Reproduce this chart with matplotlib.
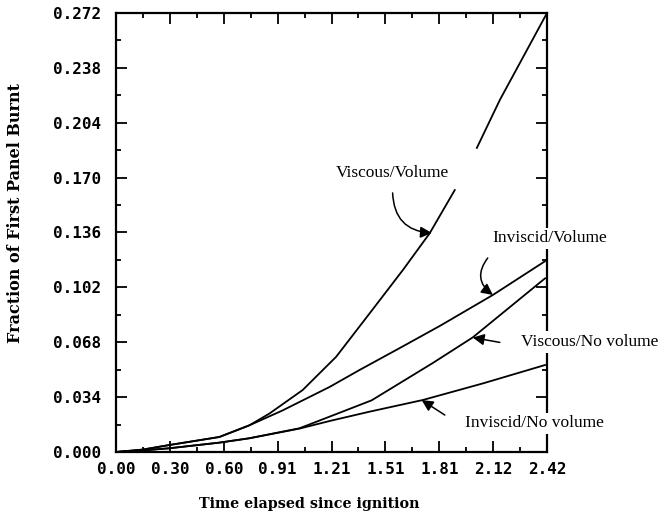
import numpy as np
import matplotlib
matplotlib.use("Agg")
import matplotlib.pyplot as plt
from matplotlib.ticker import FixedLocator

# burn fraction of the first panel vs. time since ignition
vv_t = [0.0, 0.15, 0.298, 0.580, 0.748, 0.861, 1.048, 1.236, 1.424, 1.611,
        1.761, 1.902, 2.026, 2.155, 2.420]
vv_f = [0.0, 0.0015, 0.0043, 0.0093, 0.0165, 0.0238, 0.0384, 0.0590, 0.0859,
        0.1128, 0.1355, 0.1623, 0.1884, 0.2181, 0.2720]

iv_t = [0.0, 0.15, 0.298, 0.580, 0.748, 0.934, 1.199, 1.367, 1.593, 1.818,
        2.116, 2.420]
iv_f = [0.0, 0.0015, 0.0043, 0.0093, 0.0165, 0.0257, 0.0403, 0.0508, 0.0644,
        0.0781, 0.0973, 0.1190]

vn_t = [0.0, 0.15, 0.298, 0.580, 0.748, 1.030, 1.199, 1.435, 1.778, 2.003,
        2.409]
vn_f = [0.0, 0.0010, 0.0023, 0.0058, 0.0085, 0.0147, 0.0219, 0.0320, 0.0551,
        0.0710, 0.1076]

in_t = [0.0, 0.15, 0.298, 0.580, 0.748, 1.030, 1.199, 1.424, 1.722, 2.060,
        2.409]
in_f = [0.0, 0.0010, 0.0023, 0.0058, 0.0085, 0.0145, 0.0192, 0.0250, 0.0322,
        0.0425, 0.0539]

x_ticks = np.linspace(0, 2.42, 9)
x_labels = ["0.00", "0.30", "0.60", "0.91", "1.21", "1.51", "1.81", "2.12", "2.42"]
y_ticks = np.linspace(0, 0.272, 9)
y_labels = ["0.000", "0.034", "0.068", "0.102", "0.136", "0.170", "0.204",
            "0.238", "0.272"]

# the viscous/volume curve is broken where its label sits
vv_gap = (1.91, 2.02)

fig = plt.figure(figsize=(6.68, 5.13), dpi=100)
ax = fig.add_axes([0.1737, 0.1189, 0.6452, 0.8558])

lw = 1.3
t = np.array(vv_t); f = np.array(vv_f)
lo = t <= vv_gap[0]
hi = t >= vv_gap[1]
ax.plot(t[lo], f[lo], color="black", lw=lw)
ax.plot(t[hi], f[hi], color="black", lw=lw)
ax.plot(iv_t, iv_f, color="black", lw=lw)
ax.plot(vn_t, vn_f, color="black", lw=lw)
ax.plot(in_t, in_f, color="black", lw=lw)

ax.set_xlim(0, 2.42)
ax.set_ylim(0, 0.272)

mono = dict(family="DejaVu Sans Mono", weight="bold", size=11.5)
ax.set_xticks(x_ticks)
ax.set_xticklabels(x_labels, fontdict=mono)
ax.set_yticks(y_ticks)
ax.set_yticklabels(y_labels, fontdict=mono)
ax.xaxis.set_minor_locator(FixedLocator((x_ticks[:-1] + x_ticks[1:]) / 2))
ax.yaxis.set_minor_locator(FixedLocator((y_ticks[:-1] + y_ticks[1:]) / 2))
ax.tick_params(which="both", direction="in", top=True, right=True, width=1.3)
ax.tick_params(which="major", length=8)
ax.tick_params(which="minor", length=3.5)
ax.tick_params(axis="x", which="major", pad=7)
ax.tick_params(axis="y", which="major", pad=11)
for sp in ax.spines.values():
    sp.set_linewidth(1.6)

ax.set_ylabel("Fraction of First Panel Burnt", family="DejaVu Serif",
              weight="bold", size=11.5)
ax.set_xlabel("Time elapsed since ignition", family="DejaVu Serif",
              weight="bold", size=10.3)
ax.yaxis.set_label_coords(-0.2135, 0.544)
ax.xaxis.set_label_coords(0.448, -0.1025)

note = dict(family="Liberation Serif", size=12.5, ha="center", va="center",
            clip_on=False, zorder=4,
            bbox=dict(boxstyle="square,pad=0.15", fc="white", ec="none"))
ax.text(1.553, 0.1729, "Viscous/Volume", **note)
ax.text(2.436, 0.1325, "Inviscid/Volume", **note)
ax.text(2.662, 0.0682, "Viscous/No volume", **note)
ax.text(2.352, 0.0179, "Inviscid/No volume", **note)

arrow = dict(arrowstyle="-|>", color="black", lw=1.1, mutation_scale=17,
             shrinkA=0, shrinkB=0)
ax.annotate("", xy=(1.773, 0.1357), xytext=(1.553, 0.1605),
            arrowprops=dict(connectionstyle="arc3,rad=0.45", **arrow),
            annotation_clip=False)
ax.annotate("", xy=(2.116, 0.0973), xytext=(2.087, 0.1202),
            arrowprops=dict(connectionstyle="arc3,rad=0.5", **arrow),
            annotation_clip=False)
ax.annotate("", xy=(2.003, 0.0709), xytext=(2.155, 0.0679),
            arrowprops=arrow, annotation_clip=False)
ax.annotate("", xy=(1.716, 0.0322), xytext=(1.846, 0.0229),
            arrowprops=arrow, annotation_clip=False)

fig.savefig("out.png", dpi=100)
